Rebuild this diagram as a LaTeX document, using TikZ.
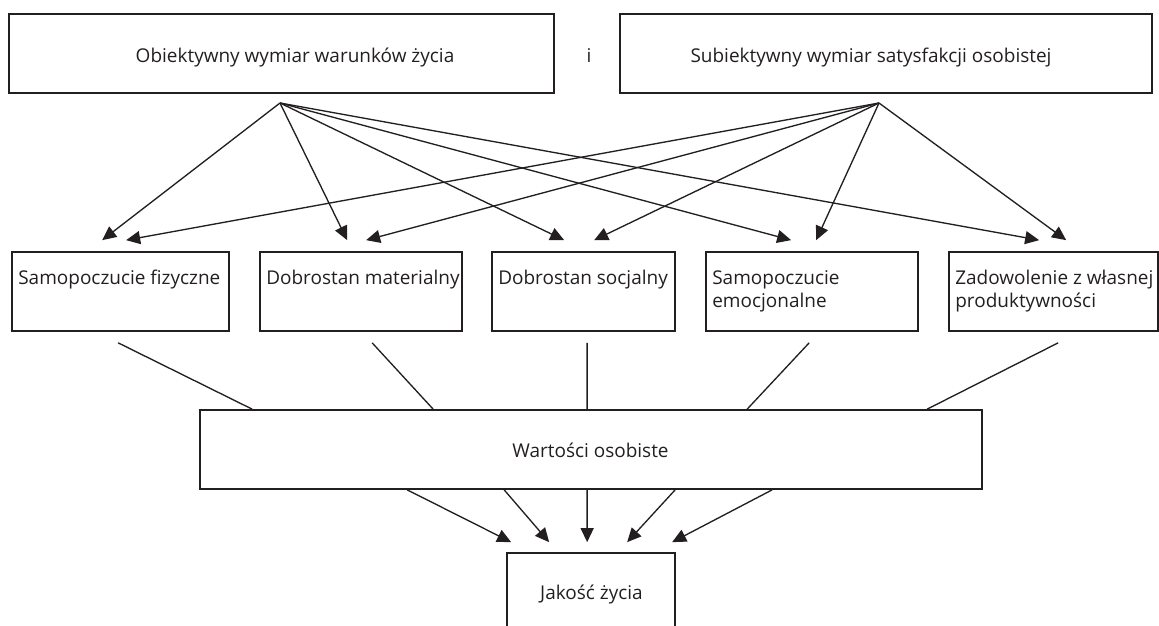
\documentclass[tikz,border=0pt]{standalone}
\usepackage{fontspec}
\setmainfont{Open Sans}
\usepackage{xcolor}
\usetikzlibrary{arrows.meta}
\definecolor{ink}{HTML}{231F20}

\begin{document}
\begin{tikzpicture}[x=0.5mm,y=-0.5mm,
    box/.style={draw=ink,line width=2.4pt,inner sep=0pt,minimum height=39.5mm},
    lab/.style={text=ink,inner sep=0pt,font=\fontsize{27}{34}\selectfont},
    con/.style={draw=ink,line width=1.9pt},
    arr/.style={con,-{Triangle[length=7mm,width=6.5mm]}}]
\useasboundingbox (0,0) rectangle (1159,626);
% top row
\node[box,minimum width=272.5mm] (obj) at (281.5,53.5) {};
\node[box,minimum width=266mm] (subj) at (886,53.5) {};
\node[lab,anchor=base] (objt) at (295,63) {Obiektywny wymiar warunków życia};
\node[lab,anchor=base] (subjt) at (871,63) {Subiektywny wymiar satysfakcji osobistej};
\node[lab,anchor=base] (i) at (589,63) {i};
\coordinate (oL) at (280,103);
\coordinate (oR) at (879,103);
% middle row
\node[box,minimum width=108.5mm] (fiz) at (120.5,291.5) {};
\node[box,minimum width=101mm] (mat) at (361,291.5) {};
\node[box,minimum width=91.5mm] (soc) at (583.5,291.5) {};
\node[box,minimum width=106mm] (emo) at (812,291.5) {};
\node[box,minimum width=104.5mm] (prod) at (1053.5,291.5) {};
\foreach \n/\t in {fiz/Samopoczucie fizyczne, mat/Dobrostan materialny,
    soc/Dobrostan socjalny, emo/Samopoczucie\\emocjonalne,
    prod/Zadowolenie z własnej\\produktywności}
  \node[lab,anchor=north west,align=left] (\n t) at ([shift={(3.5mm,-8mm)}]\n.north west) {\strut\t};
% arrows from both dimensions
\foreach \n/\a/\b in {fiz/91/115, mat/88/107, soc/73/103, emo/86/111, prod/91/118}{
  \draw[arr] (oL) -- ([shift={(\a,-11)}]\n.north west);
  \draw[arr] (oR) -- ([shift={(\b,-11)}]\n.north west);
}
% bottom
\node[box,minimum width=391mm] (wart) at (591,449.5) {};
\node[lab,anchor=base] (wartt) at (590.5,457) {Wartości osobiste};
\node[box,minimum width=84mm] (jak) at (591,592.5) {};
\node[lab,anchor=base] (jakt) at (591.5,599) {Jakość życia};
\foreach \n/\a/\b in {fiz/107/53, mat/113/234, soc/96/388, emo/104/548, prod/110/728}
  \draw[con] ([shift={(\a,11)}]\n.south west) -- ([shift={(\b,0)}]wart.north west);
\foreach \a/\b in {208/5, 305/43, 388/81, 476/121, 573/166}
  \draw[arr] ([shift={(\a,0)}]wart.south west) -- ([shift={(\b,-10)}]jak.north west);
\end{tikzpicture}
\end{document}
